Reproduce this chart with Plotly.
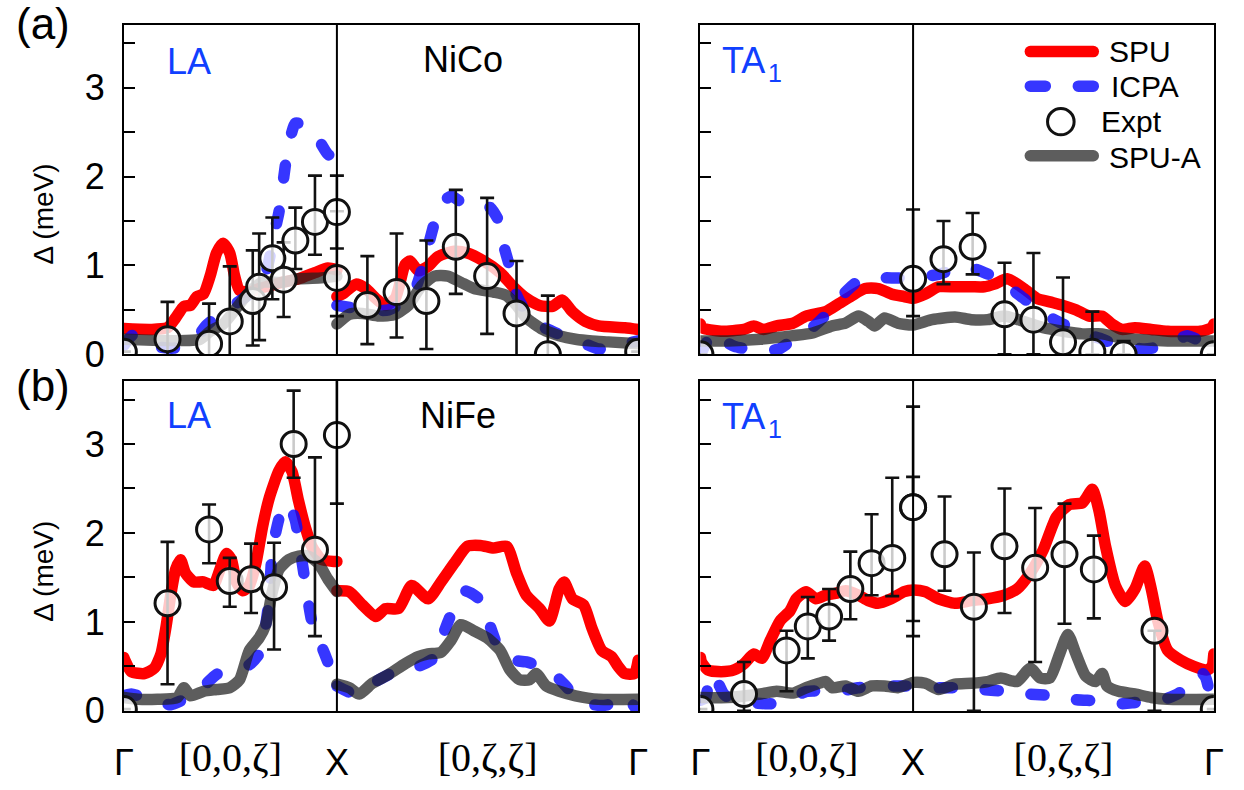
import numpy as np
import plotly.graph_objects as go

W, H = 1244, 790
Q_X = 1.0                 # Γ → X along [0,0,ζ]
Q_END = 1.0 + np.sqrt(2)  # X → Γ along [0,ζ,ζ]

# ---------------- NiCo, LA ----------------
nico_la_spu_q1 = [0, 0.128, 0.205, 0.243, 0.282, 0.312, 0.343, 0.374, 0.405, 0.435, 0.466, 0.497, 0.52, 0.543, 0.589, 0.635, 0.682, 0.743, 0.82, 0.897, 0.958, 1.0]
nico_la_spu_1 = [0.29, 0.28, 0.30, 0.41, 0.54, 0.55, 0.65, 0.68, 0.88, 1.14, 1.25, 1.14, 0.88, 0.72, 0.70, 0.74, 0.77, 0.81, 0.85, 0.92, 0.97, 0.95]
nico_la_spu_q2 = [1.0, 1.028, 1.089, 1.135, 1.182, 1.228, 1.274, 1.32, 1.343, 1.382, 1.428, 1.474, 1.551, 1.612, 1.689, 1.766, 1.828, 1.889, 1.951, 2.012, 2.058, 2.105, 2.166, 2.228, 2.351, 2.414]
nico_la_spu_2 = [0.65, 0.68, 0.79, 0.74, 0.63, 0.55, 0.63, 1.01, 1.05, 0.94, 0.99, 1.10, 1.16, 1.14, 1.05, 0.92, 0.76, 0.63, 0.55, 0.54, 0.61, 0.48, 0.37, 0.32, 0.30, 0.28]

nico_la_icpa_q1 = [0, 0.045, 0.128, 0.235, 0.328, 0.389, 0.482, 0.589, 0.666, 0.705, 0.728, 0.751, 0.766, 0.805, 0.851, 0.897, 0.958, 1.0]
nico_la_icpa_1 = [0.10, 0.22, 0.10, 0.07, 0.15, 0.33, 0.50, 0.68, 0.92, 1.35, 1.60, 2.00, 2.25, 2.60, 2.57, 2.48, 2.25, 2.20]
nico_la_icpa_q2 = [1.0, 1.143, 1.243, 1.32, 1.37, 1.41, 1.46, 1.49, 1.535, 1.6, 1.66, 1.72, 1.766, 1.78, 1.81, 1.83, 1.88, 1.935, 2.01, 2.07, 2.135, 2.228, 2.29, 2.35, 2.414]
nico_la_icpa_2 = [0.55, 0.50, 0.50, 0.60, 0.75, 1.05, 1.50, 1.69, 1.78, 1.69, 1.70, 1.65, 1.47, 1.25, 0.99, 0.74, 0.50, 0.35, 0.26, 0.20, 0.15, 0.06, 0.07, 0.12, 0.15]

nico_la_spua_q1 = [0, 0.358, 0.405, 0.466, 0.528, 0.589, 0.651, 0.743, 0.82, 0.928, 1.0]
nico_la_spua_1 = [0.17, 0.17, 0.26, 0.34, 0.52, 0.70, 0.81, 0.81, 0.85, 0.86, 0.88]
nico_la_spua_q2 = [1.0, 1.058, 1.12, 1.197, 1.274, 1.335, 1.397, 1.458, 1.52, 1.582, 1.643, 1.735, 1.797, 1.843, 1.889, 1.966, 2.043, 2.12, 2.197, 2.274, 2.414]
nico_la_spua_2 = [0.34, 0.45, 0.46, 0.43, 0.45, 0.55, 0.77, 0.88, 0.88, 0.81, 0.74, 0.70, 0.66, 0.55, 0.41, 0.28, 0.21, 0.17, 0.15, 0.14, 0.12]

nico_la_expt_q = [0, 0.205, 0.40, 0.497, 0.605, 0.635, 0.697, 0.75, 0.805, 0.897, 1.0, 1.0, 1.143, 1.28, 1.42, 1.558, 1.705, 1.843, 1.99, 2.414]
nico_la_expt = [0.03, 0.17, 0.12, 0.37, 0.60, 0.76, 1.08, 0.84, 1.28, 1.49, 1.60, 0.86, 0.555, 0.70, 0.60, 1.21, 0.88, 0.46, 0.0, 0.03]
nico_la_err_hi = [0, 0.42, 0.45, 0.62, 0.57, 0.60, 0.46, 0.42, 0.37, 0.52, 0.41, 0.75, 0.55, 0.66, 0.68, 0.64, 0.88, 0.59, 0.66, 0]
nico_la_err_lo = [0, 0.42, 0.45, 0.62, 0.50, 0.60, 0.46, 0.42, 0.32, 0.37, 0.41, 0.43, 0.44, 0.51, 0.54, 0.53, 0.65, 0.59, 0.66, 0]

# ---------------- NiCo, TA1 ----------------
nico_ta_spu_q = [0, 0.005, 0.097, 0.205, 0.251, 0.297, 0.358, 0.435, 0.497, 0.589, 0.651, 0.712, 0.774, 0.835, 0.897, 0.958, 1.0, 1.058, 1.12, 1.197, 1.274, 1.335, 1.382, 1.443, 1.52, 1.582, 1.643, 1.705, 1.766, 1.828, 1.889, 1.935, 1.982, 2.043, 2.12, 2.197, 2.351, 2.405, 2.414]
nico_ta_spu = [0.34, 0.30, 0.26, 0.28, 0.32, 0.28, 0.32, 0.35, 0.43, 0.48, 0.57, 0.66, 0.74, 0.74, 0.68, 0.65, 0.63, 0.68, 0.76, 0.76, 0.76, 0.76, 0.79, 0.85, 0.74, 0.63, 0.59, 0.55, 0.50, 0.43, 0.43, 0.34, 0.28, 0.30, 0.28, 0.26, 0.26, 0.30, 0.34]

nico_ta_icpa_q = [0, 0.035, 0.065, 0.12, 0.16, 0.27, 0.37, 0.42, 0.47, 0.535, 0.58, 0.62, 0.69, 0.74, 0.805, 0.9, 1.0, 1.12, 1.243, 1.335, 1.40, 1.443, 1.52, 1.597, 1.705, 1.797, 1.889, 1.966, 2.089, 2.15, 2.212, 2.289, 2.35, 2.414]
nico_ta_icpa = [0.0, 0.16, 0.25, 0.14, 0.09, 0.04, 0.06, 0.14, 0.23, 0.32, 0.42, 0.54, 0.72, 0.82, 0.86, 0.86, 0.86, 0.90, 0.99, 0.92, 0.85, 0.77, 0.63, 0.48, 0.34, 0.24, 0.17, 0.10, 0.06, 0.08, 0.12, 0.21, 0.15, 0.10]

nico_ta_spua_q = [0, 0.128, 0.282, 0.435, 0.528, 0.62, 0.682, 0.743, 0.79, 0.82, 0.866, 0.928, 1.0, 1.089, 1.197, 1.274, 1.351, 1.428, 1.52, 1.612, 1.705, 1.797, 1.889, 1.966, 2.043, 2.197, 2.414]
nico_ta_spua = [0.15, 0.15, 0.17, 0.21, 0.24, 0.32, 0.35, 0.43, 0.37, 0.32, 0.41, 0.35, 0.33, 0.39, 0.42, 0.39, 0.39, 0.43, 0.37, 0.30, 0.26, 0.23, 0.23, 0.19, 0.17, 0.15, 0.15]

nico_ta_expt_q = [0, 1.0, 1.143, 1.28, 1.43, 1.566, 1.705, 1.843, 1.99, 2.414]
nico_ta_expt = [0.0, 0.85, 1.07, 1.21, 0.45, 0.39, 0.135, 0.03, 0.0, 0.0]
nico_ta_err_hi = [0, 0.78, 0.43, 0.38, 0.58, 0.75, 0.73, 0.45, 0.15, 0]
nico_ta_err_lo = [0, 0.42, 0.28, 0.31, 0.45, 0.39, 0.135, 0.03, 0.0, 0]

# ---------------- NiFe, LA ----------------
nife_la_spu_q1 = [0, 0.005, 0.035, 0.097, 0.143, 0.174, 0.197, 0.22, 0.243, 0.266, 0.289, 0.328, 0.374, 0.42, 0.451, 0.482, 0.505, 0.528, 0.558, 0.589, 0.62, 0.651, 0.682, 0.728, 0.758, 0.789, 0.82, 0.851, 0.882, 0.928, 0.989, 1.0]
nife_la_spu_1 = [0.60, 0.57, 0.44, 0.42, 0.48, 0.64, 0.93, 1.30, 1.59, 1.70, 1.55, 1.45, 1.45, 1.41, 1.59, 1.77, 1.70, 1.45, 1.35, 1.41, 1.66, 2.07, 2.39, 2.70, 2.80, 2.69, 2.36, 2.07, 1.85, 1.70, 1.68, 1.68]
nife_la_spu_q2 = [1.0, 1.058, 1.12, 1.182, 1.228, 1.289, 1.351, 1.428, 1.489, 1.551, 1.612, 1.674, 1.735, 1.797, 1.843, 1.889, 1.951, 1.997, 2.043, 2.066, 2.105, 2.158, 2.197, 2.243, 2.289, 2.32, 2.351, 2.397, 2.414]
nife_la_spu_2 = [1.35, 1.34, 1.19, 1.06, 1.15, 1.15, 1.41, 1.26, 1.45, 1.66, 1.85, 1.86, 1.83, 1.85, 1.55, 1.30, 1.15, 1.01, 1.37, 1.45, 1.26, 1.19, 0.93, 0.68, 0.61, 0.50, 0.42, 0.42, 0.57]

nife_la_icpa_q1 = [0, 0.035, 0.08, 0.174, 0.22, 0.282, 0.358, 0.435, 0.528, 0.589, 0.635, 0.659, 0.682, 0.697, 0.728, 0.751, 0.774, 0.805, 0.828, 0.851, 0.882, 0.912, 0.943, 0.974, 1.0]
nife_la_icpa_1 = [0.17, 0.19, 0.16, 0.09, 0.07, 0.13, 0.24, 0.41, 0.48, 0.52, 0.64, 0.86, 1.26, 1.81, 2.16, 2.32, 2.32, 2.14, 1.81, 1.45, 1.01, 0.82, 0.64, 0.45, 0.35]
nife_la_icpa_q2 = [1.0, 1.089, 1.197, 1.289, 1.382, 1.458, 1.505, 1.535, 1.597, 1.666, 1.712, 1.751, 1.797, 1.828, 1.889, 1.997, 2.074, 2.135, 2.243, 2.32, 2.351, 2.405]
nife_la_icpa_2 = [0.28, 0.19, 0.35, 0.46, 0.50, 0.60, 0.90, 1.08, 1.35, 1.26, 1.00, 0.75, 0.62, 0.57, 0.55, 0.46, 0.28, 0.11, 0.06, 0.10, 0.17, 0.02]

nife_la_spua_q1 = [0, 0.066, 0.158, 0.251, 0.282, 0.312, 0.374, 0.435, 0.497, 0.543, 0.589, 0.635, 0.666, 0.697, 0.728, 0.774, 0.82, 0.866, 0.912, 0.958, 1.0]
nife_la_spua_1 = [0.15, 0.13, 0.13, 0.15, 0.26, 0.17, 0.22, 0.24, 0.26, 0.35, 0.68, 0.82, 0.97, 1.34, 1.59, 1.70, 1.74, 1.74, 1.66, 1.48, 1.34]
nife_la_spua_q2 = [1.0, 1.058, 1.105, 1.166, 1.243, 1.32, 1.382, 1.428, 1.489, 1.535, 1.582, 1.643, 1.705, 1.766, 1.812, 1.858, 1.905, 1.935, 1.982, 2.043, 2.12, 2.228, 2.414]
nife_la_spua_2 = [0.30, 0.26, 0.19, 0.31, 0.41, 0.53, 0.61, 0.64, 0.66, 0.79, 0.97, 0.90, 0.82, 0.68, 0.46, 0.35, 0.35, 0.42, 0.28, 0.22, 0.17, 0.13, 0.13]

nife_la_expt_q = [0, 0.205, 0.40, 0.497, 0.597, 0.705, 0.797, 0.897, 1.0]
nife_la_expt = [0.02, 1.21, 2.04, 1.46, 1.48, 1.39, 3.0, 1.81, 3.1]
nife_la_err_hi = [0, 0.69, 0.28, 0.26, 0.40, 0.50, 0.60, 1.04, 0.78]
nife_la_err_lo = [0, 0.91, 0.38, 0.29, 0.38, 0.70, 0.38, 0.97, 0.77]

# ---------------- NiFe, TA1 ----------------
nife_ta_spu_q = [0, 0.005, 0.035, 0.097, 0.158, 0.205, 0.251, 0.289, 0.328, 0.374, 0.42, 0.451, 0.497, 0.543, 0.589, 0.635, 0.682, 0.743, 0.789, 0.835, 0.897, 0.958, 1.0, 1.058, 1.12, 1.197, 1.274, 1.351, 1.428, 1.489, 1.551, 1.612, 1.674, 1.735, 1.797, 1.843, 1.874, 1.905, 1.951, 1.997, 2.043, 2.089, 2.12, 2.151, 2.197, 2.258, 2.32, 2.382, 2.405, 2.414]
nife_ta_spu = [0.60, 0.55, 0.46, 0.44, 0.46, 0.53, 0.64, 0.59, 0.79, 1.01, 1.12, 1.26, 1.34, 1.26, 1.30, 1.32, 1.35, 1.30, 1.24, 1.21, 1.26, 1.34, 1.36, 1.34, 1.26, 1.21, 1.24, 1.26, 1.30, 1.37, 1.55, 1.81, 2.18, 2.32, 2.34, 2.49, 2.25, 1.85, 1.41, 1.23, 1.37, 1.63, 1.37, 1.01, 0.68, 0.57, 0.50, 0.46, 0.50, 0.64]

nife_ta_icpa_q = [0, 0.025, 0.045, 0.075, 0.11, 0.15, 0.25, 0.33, 0.45, 0.5, 0.65, 0.74, 0.835, 0.958, 1.0, 1.105, 1.228, 1.32, 1.443, 1.535, 1.658, 1.75, 1.874, 1.966, 2.03, 2.089, 2.18, 2.25, 2.289, 2.351, 2.375, 2.397, 2.414]
nife_ta_icpa = [0.12, 0.15, 0.42, 0.35, 0.19, 0.12, 0.09, 0.08, 0.17, 0.22, 0.22, 0.26, 0.28, 0.28, 0.28, 0.26, 0.26, 0.24, 0.22, 0.19, 0.17, 0.13, 0.11, 0.08, 0.09, 0.11, 0.13, 0.20, 0.28, 0.44, 0.38, 0.19, 0.12]

nife_ta_spua_q = [0, 0.128, 0.282, 0.358, 0.435, 0.497, 0.558, 0.589, 0.62, 0.682, 0.743, 0.805, 0.866, 0.928, 1.0, 1.058, 1.12, 1.197, 1.274, 1.351, 1.412, 1.489, 1.551, 1.597, 1.643, 1.689, 1.728, 1.766, 1.812, 1.858, 1.889, 1.912, 1.966, 2.043, 2.12, 2.197, 2.414]
nife_ta_spua = [0.15, 0.15, 0.19, 0.22, 0.20, 0.26, 0.31, 0.33, 0.26, 0.28, 0.22, 0.28, 0.28, 0.26, 0.32, 0.31, 0.24, 0.30, 0.31, 0.33, 0.37, 0.33, 0.48, 0.37, 0.37, 0.64, 0.86, 0.64, 0.39, 0.33, 0.42, 0.28, 0.22, 0.19, 0.15, 0.13, 0.13]

nife_ta_expt_q = [0, 0.205, 0.405, 0.505, 0.605, 0.705, 0.805, 0.902, 1.0, 1.0, 1.148, 1.286, 1.43, 1.574, 1.712, 1.85, 2.135, 2.414]
nife_ta_expt = [0.02, 0.19, 0.68, 0.95, 1.06, 1.37, 1.66, 1.72, 2.29, 2.29, 1.76, 1.17, 1.85, 1.61, 1.76, 1.59, 0.90, 0.02]
nife_ta_err_hi = [0, 0.36, 0.22, 0.33, 0.31, 0.42, 0.55, 0.90, 1.13, 0.34, 0.65, 0.61, 0.65, 0.67, 0.57, 0.38, 0, 0]
nife_ta_err_lo = [0, 0.19, 0.46, 0.36, 0.27, 0.34, 0.36, 0.43, 1.45, 1.28, 0.41, 1.17, 0.75, 1.06, 0.78, 0.55, 0.90, 0]

# Axis tick labels: high-symmetry points (sans) and directions (serif)
point_tick_vals = [0, Q_X, Q_END]
point_tick_text = ["Γ", "X", "Γ"]
dir_tick_vals = [0.5, Q_X + np.sqrt(2) / 2]
dir_tick_text = ["[0,0,ζ]", "[0,ζ,ζ]"]
e_tick_vals = [0, 1, 2, 3]
e_tick_text = ["0", "1", "2", "3"]

# Styles
SANS = "Liberation Sans, Arial, Helvetica, sans-serif"
SERIF = "Liberation Serif, Times New Roman, serif"
RED = "#ff0000"
BLUE = "rgba(10,10,255,0.82)"
GRAY = "rgba(30,30,30,0.72)"
LABEL_BLUE = "#1040ff"
LW = 11.5
ICPA_DASH = "13px,33px"


def joined(q1, v1, q2, v2):
    """Two path segments (Γ→X, X→Γ) separated by a gap at X."""
    return list(q1) + [None] + list(q2), list(v1) + [None] + list(v2)


panels = [
    dict(spu=joined(nico_la_spu_q1, nico_la_spu_1, nico_la_spu_q2, nico_la_spu_2),
         icpa=joined(nico_la_icpa_q1, nico_la_icpa_1, nico_la_icpa_q2, nico_la_icpa_2),
         spua=joined(nico_la_spua_q1, nico_la_spua_1, nico_la_spua_q2, nico_la_spua_2),
         expt=(nico_la_expt_q, nico_la_expt, nico_la_err_hi, nico_la_err_lo)),
    dict(spu=(nico_ta_spu_q, nico_ta_spu),
         icpa=(nico_ta_icpa_q, nico_ta_icpa),
         spua=(nico_ta_spua_q, nico_ta_spua),
         expt=(nico_ta_expt_q, nico_ta_expt, nico_ta_err_hi, nico_ta_err_lo)),
    dict(spu=joined(nife_la_spu_q1, nife_la_spu_1, nife_la_spu_q2, nife_la_spu_2),
         icpa=joined(nife_la_icpa_q1, nife_la_icpa_1, nife_la_icpa_q2, nife_la_icpa_2),
         spua=joined(nife_la_spua_q1, nife_la_spua_1, nife_la_spua_q2, nife_la_spua_2),
         expt=(nife_la_expt_q, nife_la_expt, nife_la_err_hi, nife_la_err_lo)),
    dict(spu=(nife_ta_spu_q, nife_ta_spu),
         icpa=(nife_ta_icpa_q, nife_ta_icpa),
         spua=(nife_ta_spua_q, nife_ta_spua),
         expt=(nife_ta_expt_q, nife_ta_expt, nife_ta_err_hi, nife_ta_err_lo)),
]

# Panel frames in pixels: (left, right, top, bottom)
frames = [(115.7, 638.5, 25.7, 364.0), (701.7, 1223.5, 25.7, 364.0),
          (115.7, 638.5, 391.7, 730.3), (701.7, 1223.5, 391.7, 730.3)]

fig = go.Figure()
layout = {}
for i, (p, fr) in enumerate(zip(panels, frames), start=1):
    xa, ya = f"x{i if i > 1 else ''}", f"y{i if i > 1 else ''}"
    curve = dict(mode="lines", xaxis=xa, yaxis=ya, showlegend=False)
    fig.add_trace(go.Scatter(x=p["spu"][0], y=p["spu"][1], name="SPU",
                             line=dict(color=RED, width=LW, shape="spline", smoothing=0.6),
                             **curve))
    fig.add_trace(go.Scatter(x=p["icpa"][0], y=p["icpa"][1], name="ICPA",
                             line=dict(color=BLUE, width=LW, dash=ICPA_DASH, shape="spline",
                                       smoothing=0.6), **curve))
    fig.add_trace(go.Scatter(x=p["spua"][0], y=p["spua"][1], name="SPU-A",
                             line=dict(color=GRAY, width=LW, shape="spline", smoothing=0.6),
                             **curve))
    q, v, ehi, elo = p["expt"]
    fig.add_trace(go.Scatter(
        x=q, y=v, mode="markers", xaxis=xa, yaxis=ya, name="Expt", showlegend=False,
        marker=dict(symbol="circle", size=25, color="rgba(255,255,255,0.78)",
                    line=dict(color="#111111", width=3)),
        error_y=dict(type="data", symmetric=False, array=ehi, arrayminus=elo,
                     color="#111111", thickness=2.6, width=7)))

    left, right, top, bottom = fr
    bottom_row = i > 2
    left_col = i in (1, 3)
    layout[f"xaxis{i if i > 1 else ''}"] = dict(
        domain=[left / W, right / W], anchor=ya, range=[0, Q_END],
        showgrid=False, zeroline=False, showline=True, mirror=True,
        linecolor="black", linewidth=1.6, ticks="",
        tickvals=point_tick_vals, ticktext=point_tick_text, showticklabels=bottom_row,
        tickfont=dict(family=SANS, size=36, color="black"), ticklabelstandoff=19)
    layout[f"yaxis{i if i > 1 else ''}"] = dict(
        domain=[1 - bottom / H, 1 - top / H], anchor=xa, range=[0, 3.705],
        showgrid=False, zeroline=False, showline=True, mirror=True,
        linecolor="black", linewidth=1.6, ticks="inside", ticklen=11, tickwidth=2,
        tickcolor="black", tickvals=e_tick_vals, ticktext=e_tick_text,
        minor=dict(dtick=0.5, ticks="inside", ticklen=11, tickwidth=2, tickcolor="black",
                   showgrid=False),
        showticklabels=left_col, tickfont=dict(family=SANS, size=36, color="black"),
        ticklabelstandoff=10)

# Direction labels on secondary x axes laid over the bottom panels
for n, (base_x, base_y) in zip((5, 6), (("x3", "y3"), ("x4", "y4"))):
    fig.add_trace(go.Scatter(x=[], y=[], xaxis=f"x{n}", yaxis=base_y, showlegend=False,
                             hoverinfo="skip"))
    layout[f"xaxis{n}"] = dict(
        overlaying=base_x, anchor=base_y, side="bottom", range=[0, Q_END],
        showgrid=False, zeroline=False, showline=False, ticks="",
        tickvals=dir_tick_vals, ticktext=dir_tick_text,
        tickfont=dict(family=SERIF, size=40, color="black"), ticklabelstandoff=19)

# Vertical marker at the X point in every panel
shapes = []
for i in range(1, 5):
    xa = f"x{i if i > 1 else ''}"
    ya = f"y{i if i > 1 else ''}"
    shapes.append(dict(type="line", xref=xa, yref=f"{ya} domain", x0=Q_X, x1=Q_X, y0=0, y1=1,
                       line=dict(color="black", width=2), layer="above"))


def px(x):
    return x / W


def py(y):
    return 1 - y / H


# Legend (upper-right panel)
leg_x0, leg_x1 = 1032, 1106
shapes += [
    dict(type="line", xref="paper", yref="paper", x0=px(leg_x0 + 5), x1=px(leg_x1 - 5),
         y0=py(53), y1=py(53), line=dict(color=RED, width=LW)),
    dict(type="line", xref="paper", yref="paper", x0=px(leg_x0 + 5), x1=px(leg_x1 - 5),
         y0=py(88.5), y1=py(88.5), line=dict(color=BLUE, width=LW, dash="15px,33px")),
    dict(type="circle", xref="paper", yref="paper", x0=px(1068 - 13.5), x1=px(1068 + 13.5),
         y0=py(125 + 13.5), y1=py(125 - 13.5), line=dict(color="#111111", width=3),
         fillcolor="white"),
    dict(type="line", xref="paper", yref="paper", x0=px(leg_x0 + 5), x1=px(leg_x1 - 5),
         y0=py(160), y1=py(160), line=dict(color=GRAY, width=LW)),
]

annotations = []


def note(text, x, y, size, color="black", xanchor="center", yanchor="middle", angle=0):
    annotations.append(dict(text=text, x=px(x), y=py(y), xref="paper", yref="paper",
                            showarrow=False, xanchor=xanchor, yanchor=yanchor,
                            textangle=angle, font=dict(family=SANS, size=size, color=color)))


note("SPU", 1115, 53, 30, xanchor="left")
note("ICPA", 1117, 89, 30, xanchor="left")
note("Expt", 1107, 125, 30, xanchor="left")
note("SPU-A", 1115, 162, 30, xanchor="left")

note("(a)", 34, 24, 44)
note("(b)", 34, 396, 44)
note("Δ (meV)", 34, 220, 28, angle=-90)
note("Δ (meV)", 34, 587, 28, angle=-90)

note("LA", 182, 63, 36, color=LABEL_BLUE)
note("NiCo", 460, 61, 36)
note("LA", 182, 427, 36, color=LABEL_BLUE)
note("NiFe", 455, 427, 36)
# TA with subscript 1
for y0 in (62, 428):
    note("TA", 722, y0, 36, color=LABEL_BLUE, xanchor="left")
    note("1", 768, y0 + 13, 25, color=LABEL_BLUE, xanchor="left")

fig.update_layout(
    width=W, height=H, margin=dict(l=0, r=0, t=0, b=0),
    paper_bgcolor="white", plot_bgcolor="white", showlegend=False,
    shapes=shapes, annotations=annotations, font=dict(family=SANS), **layout)

# Rounded ends and joins for the thick curves
round_caps = """
var gd = document.getElementById('{plot_id}');
function roundCaps() {
  gd.querySelectorAll('.scatterlayer .js-line, .shapelayer path').forEach(function (p) {
    p.style.strokeLinecap = 'round';
    p.style.strokeLinejoin = 'round';
  });
}
roundCaps();
gd.on('plotly_afterplot', roundCaps);
"""

fig.write_html("out.html", post_script=round_caps)
